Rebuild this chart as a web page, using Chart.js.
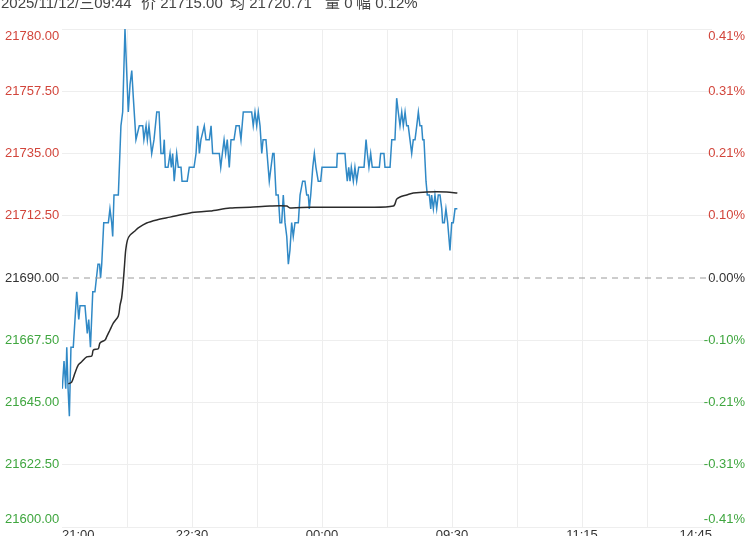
<!DOCTYPE html>
<html>
<head>
<meta charset="utf-8">
<script src="https://cdn.jsdelivr.net/npm/chart.js@4.4.1/dist/chart.umd.min.js"></script>
<style>
  html, body { margin: 0; padding: 0; background: #fff; overflow: hidden; }
  #wrap { position: relative; width: 750px; height: 557px; }
  #head { position: absolute; top: -9px; left: 0; width: 750px; height: 18px; z-index: 2;
          font: 15px "Liberation Sans", "Noto Sans CJK SC", sans-serif; color: #444; white-space: pre; }
  #head span { position: absolute; top: 0; }
</style>
</head>
<body>
<div id="head">
  <span style="left:1px">2025/11/12/三09:44</span>
  <span style="left:141px">价 21715.00</span>
  <span style="left:230px">均 21720.71</span>
  <span style="left:325px">量 0</span>
  <span style="left:356px">幅 0.12%</span>
</div>
<div id="wrap"><canvas id="minuteChart"></canvas></div>
<script>
// Intraday minute chart (price + average)

const basePrice = 21690;

// x axis: trading-minute slots, grid every 45
const gridSlots = [0, 45, 90, 135, 180, 225, 270, 315, 360, 405, 450];
const timeLabels = ["21:00", "", "22:30", "", "00:00", "", "09:30", "", "11:15", "", "14:45"];

// y axis ticks
const priceTicks = [21600, 21622.5, 21645, 21667.5, 21690, 21712.5, 21735, 21757.5, 21780];
const pctLabels = ["-0.41%", "-0.31%", "-0.21%", "-0.10%", "0.00%", "0.10%", "0.21%", "0.31%", "0.41%"];

// price line
const priceTimes = [
    0.2, 1.4, 2.6, 3.3, 4.2, 5.1, 6.2, 7.8, 10.2, 11.6, 12.5, 15.9, 17.5, 18.5, 19.7, 21.3, 22.8, 24.9, 26.0, 26.7,
    27.5, 28.9, 32.1, 33.2, 34.4, 35.1, 36.0, 39.0, 40.8, 42.0, 43.6, 45.9, 47.1, 48.3, 49.4, 51.2, 53.5, 55.9, 56.7, 58.2,
    59.1, 60.2, 62.1, 63.7, 65.6, 67.2, 68.5, 70.1, 70.8, 71.5, 73.4, 74.8, 75.7, 76.6, 77.7, 79.4, 80.5, 82.4, 83.1, 86.7,
    88.1, 91.4, 92.8, 93.9, 95.1, 96.2, 98.5, 99.7, 102.0, 103.2, 104.3, 108.9, 109.9, 111.0, 112.2, 113.3, 114.4, 115.8, 117.0, 119.1,
    120.5, 122.7, 123.9, 125.5, 126.7, 131.3, 132.4, 133.6, 134.8, 135.9, 137.1, 138.3, 139.2, 141.2, 143.5, 145.9, 146.8, 148.2, 149.7, 150.9,
    152.1, 153.2, 154.4, 155.6, 156.7, 157.8, 159.0, 160.1, 161.3, 162.5, 163.6, 164.8, 166.6, 168.2, 169.4, 170.5, 171.2, 172.2, 173.6, 174.7,
    175.8, 177.4, 179.1, 180.0, 190.2, 190.6, 195.9, 196.6, 197.5, 198.5, 199.4, 200.3, 201.7, 202.8, 204.0, 205.4, 209.1, 210.5, 211.4, 212.5,
    213.7, 214.8, 219.7, 220.6, 222.9, 223.6, 227.1, 228.3, 230.5, 231.7, 232.8, 234.0, 235.2, 236.3, 237.5, 238.6, 239.7, 240.9, 242.1, 243.2,
    244.4, 245.6, 246.7, 247.8, 249.0, 249.7, 250.6, 252.0, 252.9, 254.3, 255.3, 255.9, 257.1, 258.2, 259.4, 260.5, 261.7, 262.9, 263.5, 264.7,
    265.8, 267.0, 268.6, 269.8, 270.9, 272.1, 273.7
];
const prices = [
    21650, 21660, 21650, 21665, 21650, 21640, 21665, 21665, 21685, 21675, 21680, 21680, 21670, 21675, 21665, 21685, 21685, 21695, 21695, 21690,
    21695, 21710, 21710, 21715, 21710, 21705, 21720, 21720, 21745, 21750, 21780, 21750, 21760, 21765, 21755, 21740, 21745, 21745, 21740, 21745,
    21740, 21745, 21735, 21740, 21750, 21750, 21735, 21735, 21740, 21730, 21730, 21735, 21730, 21735, 21725, 21735, 21730, 21730, 21725, 21725,
    21730, 21730, 21735, 21745, 21735, 21740, 21745, 21740, 21740, 21745, 21735, 21735, 21730, 21735, 21740, 21735, 21740, 21730, 21740, 21740,
    21745, 21745, 21740, 21750, 21750, 21750, 21745, 21750, 21745, 21750, 21745, 21735, 21740, 21740, 21725, 21735, 21735, 21720, 21720, 21710,
    21710, 21720, 21710, 21705, 21695, 21700, 21710, 21705, 21710, 21710, 21710, 21720, 21725, 21725, 21720, 21720, 21715, 21720, 21730, 21735,
    21730, 21725, 21725, 21730, 21730, 21735, 21735, 21730, 21725, 21730, 21725, 21730, 21725, 21730, 21725, 21730, 21730, 21740, 21735, 21730,
    21735, 21730, 21730, 21735, 21735, 21730, 21730, 21740, 21740, 21755, 21750, 21745, 21750, 21745, 21750, 21745, 21745, 21740, 21735, 21740,
    21740, 21745, 21750, 21745, 21745, 21740, 21740, 21725, 21720, 21720, 21715, 21720, 21715, 21720, 21715, 21720, 21720, 21715, 21710, 21710,
    21715, 21710, 21700, 21710, 21710, 21715, 21715
];

// average line
const avgTimes = [
    4.4, 6.7, 9.0, 11.3, 13.6, 17.1, 20.6, 21.7, 25.1, 26.3, 29.8, 30.9, 33.2, 35.5, 39.0, 40.2, 41.3, 42.4, 43.3, 44.1,
    45.3, 47.1, 50.5, 52.8, 58.6, 65.6, 74.8, 88.6, 102.5, 116.3, 130.2, 144.0, 155.6, 157.8, 171.7, 206.3, 229.4, 231.7, 234.0, 238.6,
    243.2, 252.5, 266.3, 273.7
];
const avgPrices = [
    21651.70, 21652.40, 21655.70, 21658.60, 21659.70, 21661.50, 21661.80, 21664.00, 21664.40, 21666.50, 21667.60, 21668.70, 21671.20, 21673.70, 21676.30, 21680.20, 21682.80, 21688.60, 21694.70, 21700.10,
    21703.70, 21705.50, 21707.00, 21708.10, 21709.90, 21711.00, 21712.00, 21713.50, 21714.20, 21715.30, 21715.60, 21716.00, 21716.00, 21715.30, 21715.60, 21715.60, 21716.00, 21718.50, 21719.30, 21720.00,
    21720.70, 21721.10, 21721.10, 21720.71
];

const fontFamily = '"Liberation Sans", Arial, sans-serif';
const upColor = "#d2453b";
const downColor = "#3fa63f";
const flatColor = "#333";
const gridColor = "#eeeeee";

const tickColor = ctx => {
    const v = ctx.tick ? ctx.tick.value : basePrice;
    if (v > basePrice) return upColor;
    if (v < basePrice) return downColor;
    return flatColor;
};

// first/last y labels pushed inward with an empty line
const edgeLabel = (text, index) => {
    if (index === priceTicks.length - 1) return ["", text];
    if (index === 0) return [text, ""];
    return text;
};

const ctx = document.getElementById("minuteChart");

new Chart(ctx, {
    type: "line",
    data: {
        datasets: [
            {
                label: "base",
                data: [{ x: gridSlots[0], y: basePrice }, { x: gridSlots[gridSlots.length - 1], y: basePrice }],
                borderColor: "#9a9a9a",
                borderWidth: 1,
                borderDash: [6, 5],
                pointRadius: 0
            },
            {
                label: "均价",
                data: avgTimes.map((t, i) => ({ x: t, y: avgPrices[i] })),
                borderColor: "#2b2b2b",
                borderWidth: 1.5,
                pointRadius: 0,
                tension: 0.3
            },
            {
                label: "价格",
                data: priceTimes.map((t, i) => ({ x: t, y: prices[i] })),
                borderColor: "#3089c6",
                borderWidth: 1.5,
                pointRadius: 0,
                tension: 0
            }
        ]
    },
    options: {
        responsive: true,
        maintainAspectRatio: false,
        animation: false,
        events: [],
        layout: { padding: { left: 5, right: 5, top: 29, bottom: 0 } },
        plugins: {
            legend: { display: false },
            tooltip: { enabled: false }
        },
        scales: {
            x: {
                type: "linear",
                min: gridSlots[0],
                max: gridSlots[gridSlots.length - 1],
                afterBuildTicks: s => { s.ticks = gridSlots.map(v => ({ value: v })); },
                afterFit: s => { s.height = 30; },
                border: { display: false },
                grid: {
                    drawTicks: false,
                    color: c => (c.index === 0 || c.index === gridSlots.length - 1) ? "rgba(0,0,0,0)" : gridColor
                },
                ticks: {
                    align: "inner",
                    padding: 1,
                    maxRotation: 0,
                    autoSkip: false,
                    color: "#333",
                    font: { family: fontFamily, size: 13 },
                    callback: (v, i) => timeLabels[i]
                }
            },
            y: {
                position: "left",
                min: priceTicks[0],
                max: priceTicks[priceTicks.length - 1],
                afterBuildTicks: s => { s.ticks = priceTicks.map(v => ({ value: v })); },
                afterFit: s => { s.width = 57; },
                border: { display: false },
                grid: {
                    drawTicks: false,
                    color: c => (c.tick && c.tick.value === basePrice) ? "rgba(0,0,0,0)" : gridColor
                },
                ticks: {
                    crossAlign: "far",
                    padding: 0,
                    autoSkip: false,
                    color: tickColor,
                    font: { family: fontFamily, size: 13 },
                    callback: (v, i) => edgeLabel(v.toFixed(2), i)
                }
            },
            y2: {
                position: "right",
                min: priceTicks[0],
                max: priceTicks[priceTicks.length - 1],
                afterBuildTicks: s => { s.ticks = priceTicks.map(v => ({ value: v })); },
                afterFit: s => {
                    s.width = 33;
                    s.paddingTop = 0;
                    s.paddingBottom = 0;
                },
                border: { display: false },
                grid: { display: false, drawTicks: false },
                ticks: {
                    // mirrored so the labels are not clipped to the narrow axis box
                    mirror: true,
                    crossAlign: "near",
                    padding: 33,
                    autoSkip: false,
                    color: tickColor,
                    font: { family: fontFamily, size: 13 },
                    callback: (v, i) => edgeLabel(pctLabels[i], i)
                }
            }
        }
    }
});
</script>
</body>
</html>
